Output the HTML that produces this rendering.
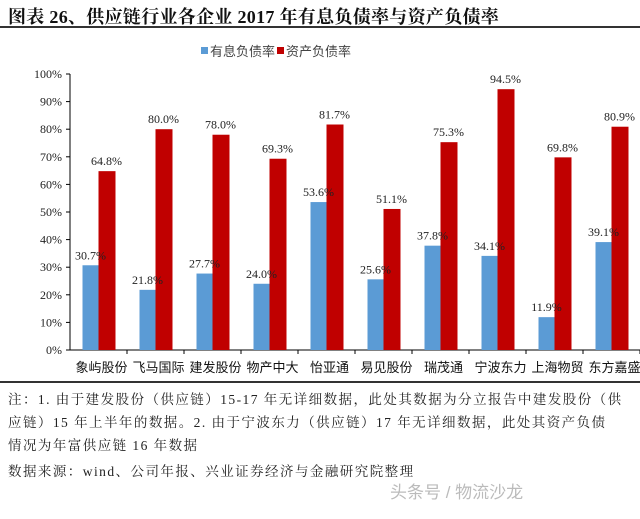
<!DOCTYPE html>
<html><head><meta charset="utf-8"><style>
body{margin:0;width:640px;height:519px;background:#fff;overflow:hidden;font-family:"Liberation Serif","Noto Serif CJK SC",serif}
.t{position:absolute;left:8px;top:3px;font-size:18px;color:#111;font-weight:bold;letter-spacing:0.3px}
.rule{position:absolute;left:0;width:640px;background:#333}
.note{position:absolute;left:8px;font-size:13.5px;color:#222;white-space:nowrap;letter-spacing:1.45px}
</style></head><body>
<div class="t">图表 26、供应链行业各企业 2017 年有息负债率与资产负债率</div>
<div class="rule" style="top:26px;height:2px"></div>
<svg id="c" width="640" height="380" style="position:absolute;left:0;top:0"></svg>
<div class="rule" style="top:381px;height:2px"></div>
<div class="note" style="top:388px">注：1. 由于建发股份（供应链）15-17 年无详细数据，此处其数据为分立报告中建发股份（供</div>
<div class="note" style="top:411px">应链）15 年上半年的数据。2. 由于宁波东力（供应链）17 年无详细数据，此处其资产负债</div>
<div class="note" style="top:434px">情况为年富供应链 16 年数据</div>
<div class="note" style="top:460px">数据来源：wind、公司年报、兴业证券经济与金融研究院整理</div>
<div style="position:absolute;left:390px;top:478px;font-size:17px;color:#bbb;font-family:'Liberation Sans','Noto Sans CJK SC',sans-serif">头条号 / 物流沙龙</div>
<script>
const categories=["象屿股份","飞马国际","建发股份","物产中大","怡亚通","易见股份","瑞茂通","宁波东力","上海物贸","东方嘉盛"];
const interestDebt=[30.7,21.8,27.7,24.0,53.6,25.6,37.8,34.1,11.9,39.1];
const assetDebt=[64.8,80.0,78.0,69.3,81.7,51.1,75.3,94.5,69.8,80.9];
const yTicks=[0,10,20,30,40,50,60,70,80,90,100];
const svg=document.getElementById('c');const NS='http://www.w3.org/2000/svg';
const x0=70,w=570,y0=350,y1=74;
const bw=w/categories.length;
const y=v=>y0-(v/100)*(y0-y1);
const xc=i=>x0+bw*(i+0.5);
function mk(t,a,txt){const e=document.createElementNS(NS,t);for(const k in a)e.setAttribute(k,a[k]);if(txt!=null)e.textContent=txt;svg.appendChild(e);return e;}
let e;
e=mk('line',{x1:x0,y1:y1,x2:x0,y2:y0,stroke:'#000'});


e=mk('line',{x1:x0,y1:y0,x2:640,y2:y0,stroke:'#000'});


yTicks.forEach(t=>{
 e=mk('line',{x1:x0-4,y1:y(t),x2:x0,y2:y(t),stroke:'#000'});
 
 
 e=mk('text',{x:x0-8,y:y(t)+4,'text-anchor':'end','font-size':12,fill:'#222'},t+'%');
 
 
});
categories.forEach((c,i)=>{
 e=mk('line',{x1:x0+bw*(i+1),y1:y0,x2:x0+bw*(i+1),y2:y0+4,stroke:'#000'});
 
 
 e=mk('rect',{x:xc(i)-16,y:y(interestDebt[i]),width:16,height:y0-y(interestDebt[i]),fill:'#5b9bd5'});
 
 
 e=mk('rect',{x:xc(i),y:y(assetDebt[i]),width:17,height:y0-y(assetDebt[i]),fill:'#c00000'});
 
 
 e=mk('text',{x:xc(i)-8,y:y(interestDebt[i])-6,'text-anchor':'middle','font-size':12,fill:'#222'},interestDebt[i].toFixed(1)+'%');
 
 
 e=mk('text',{x:xc(i)+8,y:y(assetDebt[i])-6,'text-anchor':'middle','font-size':12,fill:'#222'},assetDebt[i].toFixed(1)+'%');
 
 
 e=mk('text',{x:xc(i)+3,y:372,'text-anchor':'middle','font-size':13,fill:'#111','font-family':'Liberation Sans, Noto Sans CJK SC, sans-serif'},c);
 
 
});
e=mk('rect',{x:201,y:47,width:7,height:7,fill:'#5b9bd5'});


e=mk('text',{x:210,y:56,'font-size':13,fill:'#444','font-family':'Liberation Sans, Noto Sans CJK SC, sans-serif'},'有息负债率');


e=mk('rect',{x:277,y:47,width:7,height:7,fill:'#c00000'});


e=mk('text',{x:286,y:56,'font-size':13,fill:'#444','font-family':'Liberation Sans, Noto Sans CJK SC, sans-serif'},'资产负债率');


</script>
</body></html>
